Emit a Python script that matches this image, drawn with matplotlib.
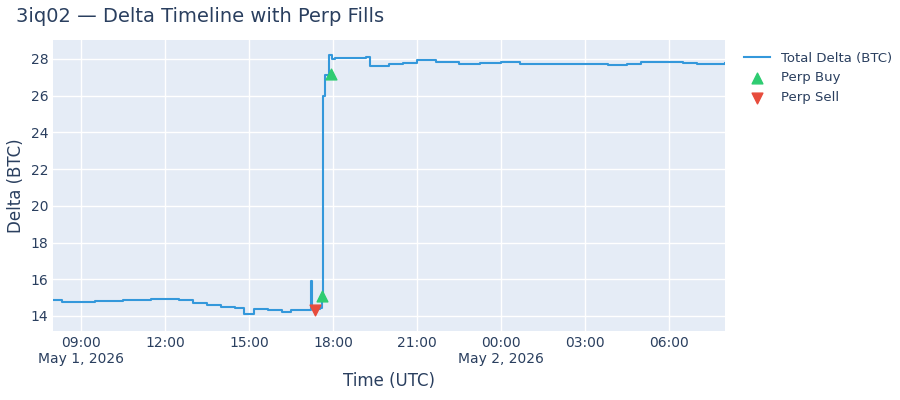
import matplotlib
matplotlib.use("Agg")
import matplotlib.pyplot as plt
import pandas as pd

times = ["2026-05-01 08:00","2026-05-01 08:20","2026-05-01 09:30","2026-05-01 10:30","2026-05-01 11:30",
         "2026-05-01 12:30","2026-05-01 13:00","2026-05-01 13:30","2026-05-01 14:00","2026-05-01 14:30",
         "2026-05-01 14:50","2026-05-01 15:10","2026-05-01 15:40","2026-05-01 16:10","2026-05-01 16:30",
         "2026-05-01 17:00","2026-05-01 17:12","2026-05-01 17:13","2026-05-01 17:15","2026-05-01 17:33",
         "2026-05-01 17:36","2026-05-01 17:38","2026-05-01 17:42","2026-05-01 17:52","2026-05-01 17:58",
         "2026-05-01 18:05","2026-05-01 19:10","2026-05-01 19:20","2026-05-01 20:00","2026-05-01 20:30",
         "2026-05-01 21:00","2026-05-01 21:40","2026-05-01 22:30","2026-05-01 23:15","2026-05-02 00:00",
         "2026-05-02 00:40","2026-05-02 01:30","2026-05-02 02:30","2026-05-02 03:20","2026-05-02 03:50",
         "2026-05-02 04:30","2026-05-02 05:00","2026-05-02 05:40","2026-05-02 06:30","2026-05-02 07:00",
         "2026-05-02 08:00"]
delta = [14.85,14.75,14.8,14.85,14.9,14.85,14.7,14.6,14.5,14.45,14.1,14.4,14.3,14.2,14.3,
         14.35,14.4,15.9,14.4,14.45,15.1,26.0,27.1,28.2,28.0,28.05,28.1,27.6,27.7,27.8,
         27.95,27.85,27.75,27.8,27.85,27.75,27.7,27.75,27.75,27.65,27.7,27.85,27.85,27.8,27.75,
         27.8]
buy_times = ["2026-05-01 17:36","2026-05-01 17:56"]
buy_vals = [15.1,27.2]
sell_times = ["2026-05-01 17:21"]
sell_vals = [14.3]

t = pd.to_datetime(times)
fc = "#2a3f5f"
fig = plt.figure(figsize=(9,4), dpi=100)
ax = fig.add_axes([53/900, 69/400, 672/900, 291/400])
ax.set_facecolor("#E5ECF6")
ax.step(t, delta, where="post", color="#3498db", lw=1.5, label="Total Delta (BTC)")
ax.scatter(pd.to_datetime(buy_times), buy_vals, marker="^", s=60, color="#2ecc71", zorder=5, label="Perp Buy")
ax.scatter(pd.to_datetime(sell_times), sell_vals, marker="v", s=60, color="#e74c3c", zorder=5, label="Perp Sell")
ax.set_xlim(pd.Timestamp("2026-05-01 08:00"), pd.Timestamp("2026-05-02 08:00"))
ax.set_ylim(13.18, 29.03)
ax.set_yticks(range(14, 29, 2))
ticks = pd.date_range("2026-05-01 09:00", "2026-05-02 06:00", freq="3h")
ax.set_xticks(ticks)
ax.set_xticklabels([d.strftime("%H:%M") + ("\n" + d.strftime("%b %-d, %Y") if d.hour in (9, 0) else "") for d in ticks])
ax.grid(True, color="white", lw=1)
ax.set_axisbelow(True)
for s in ax.spines.values():
    s.set_visible(False)
ax.tick_params(length=0, colors=fc, labelsize=10)
ax.set_xlabel("Time (UTC)", color=fc, fontsize=12)
ax.set_ylabel("Delta (BTC)", color=fc, fontsize=12)
fig.text(16/900, 1-16/400, "3iq02 — Delta Timeline with Perp Fills", color=fc, fontsize=14, va="center")
leg = ax.legend(loc="upper left", bbox_to_anchor=(1.01, 1.0), frameon=False, fontsize=9.5)
for tx in leg.get_texts():
    tx.set_color(fc)
fig.savefig("out.png")
